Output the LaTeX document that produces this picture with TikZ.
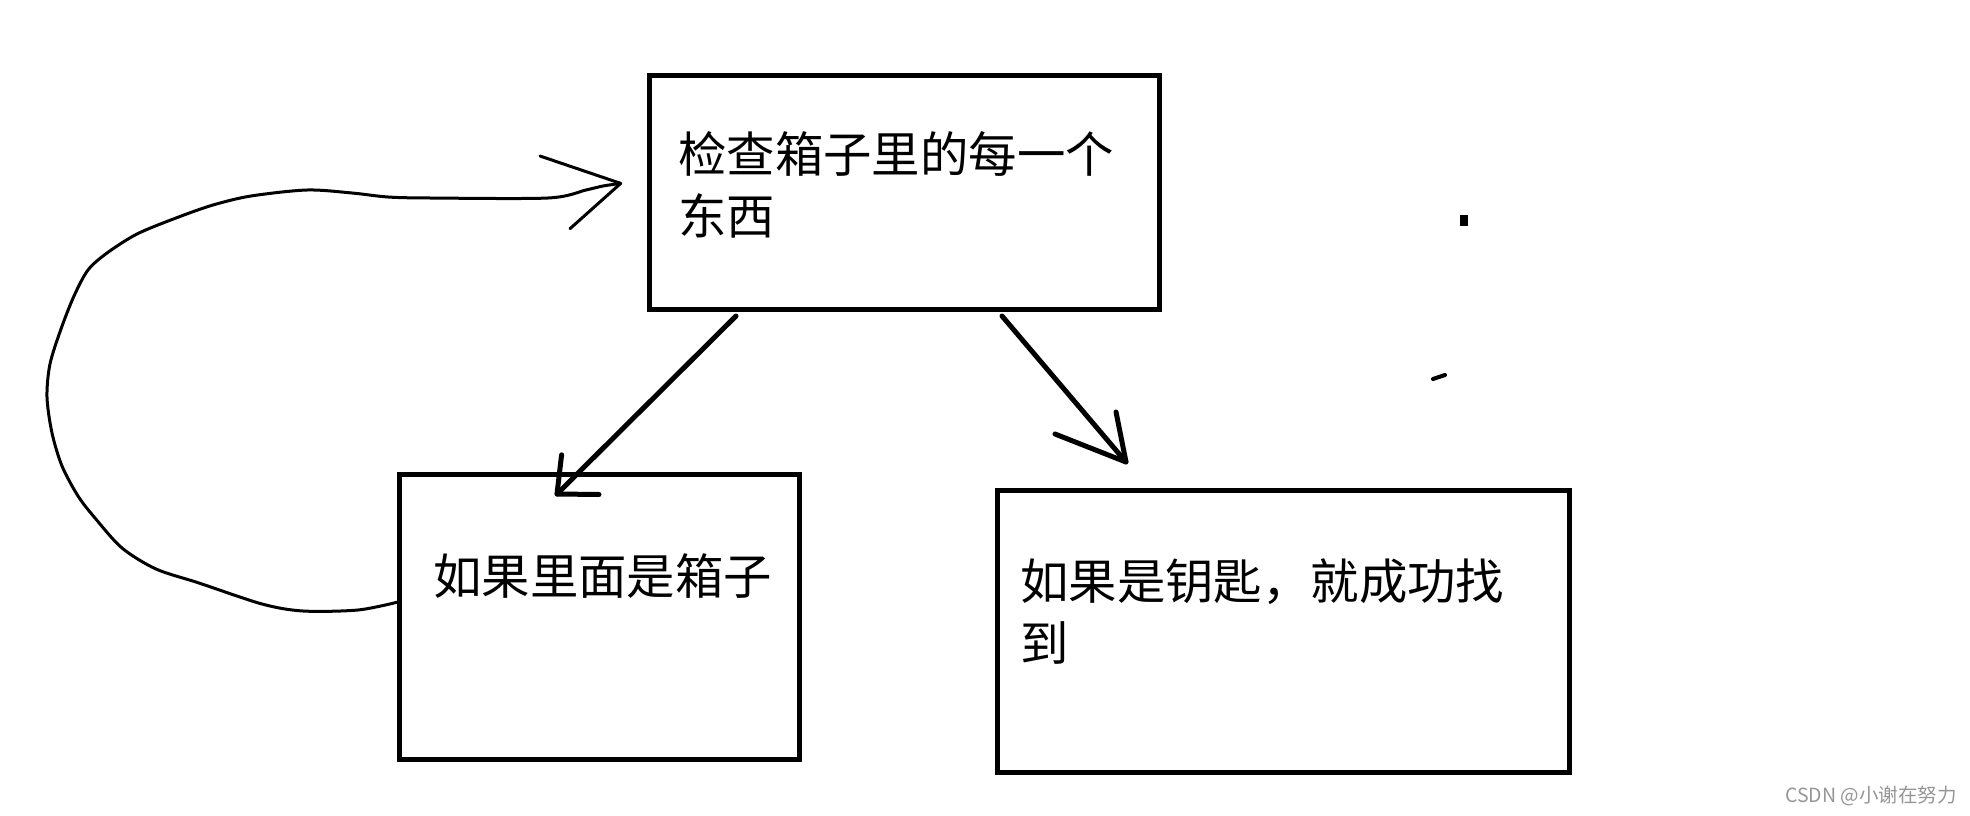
\documentclass[tikz,border=0pt]{standalone}
\usepackage{fontspec}
\newfontfamily\cjk{Noto Sans CJK SC}
\definecolor{wmgray}{RGB}{150,150,150}
\begin{document}
\begin{tikzpicture}[x=1pt,y=-1pt,
  boxstyle/.style={draw=black, line width=5pt, rectangle, inner sep=0pt},
  txt/.style={font=\cjk\fontsize{48.4}{62}\selectfont, inner sep=0pt, anchor=base west},
  conn/.style={line width=5pt, line cap=round, line join=round},
  loopline/.style={line width=3pt, line cap=round, line join=round},
  inkspot/.style={line width=4pt, line cap=round}]
\fill[white] (0,0) rectangle (1970,816);
\useasboundingbox (0,0) rectangle (1970,816);

% boxes
\node[boxstyle, minimum width=510pt, minimum height=234pt] (top) at (904.5,192.5) {};
\node[boxstyle, minimum width=400pt, minimum height=284.5pt] (left) at (599.5,616.75) {};
\node[boxstyle, minimum width=572pt, minimum height=281.5pt] (right) at (1283.5,631.25) {};

% texts
\node[txt] (topA) at (678,172.5) {检查箱子里的每一个};
\node[txt] (topB) at (678,234.5) {东西};
\node[txt] (leftT) at (433,594) {如果里面是箱子};
\node[txt] (rightA) at (1020,599) {如果是钥匙，就成功找};
\node[txt] (rightB) at (1020,661) {到};

% left arrow
\coordinate (aLs) at (736,316);
\coordinate (aLt) at (557,494);
\coordinate (aLh1) at (561.6,454.8);
\coordinate (aLh2) at (599,494.5);
\draw[conn] (aLs) -- (aLt);
\draw[conn] (aLh1) -- (aLt) -- (aLh2);

% right arrow
\coordinate (aRs) at (1002,316);
\coordinate (aRt) at (1126,462);
\coordinate (aRh1) at (1055,434);
\coordinate (aRh2) at (1116,412);
\draw[conn] (aRs) -- (aRt);
\draw[conn] (aRh1) -- (aRt) -- (aRh2);

% loop arrow
\coordinate (loopS) at (398,602);
\coordinate (loopT) at (620.7,183.4);
\coordinate (loopH1) at (540,156);
\coordinate (loopH2) at (570,228.7);
\draw[loopline] plot[smooth, tension=0.5] coordinates {(loopS) (358,610) (303,611) (262,604) (199,583) (156,569) (122,548) (95,518) (78,496) (62,466) (52,433) (47,397) (50,364) (61,329) (74,296) (88,270) (107,253) (137,234) (176,218) (213,205) (251,196) (307,190) (352,193) (388,197) (430,198) (548,198) (586,190) (603,186) (loopT)};
\draw[loopline] (loopH1) -- (loopT) -- (loopH2);

% stray marks
\fill (1460,215) rectangle (1468,226);
\draw[inkspot] (1433,379) -- (1445,375);

% watermark
\node[font=\cjk\fontsize{19.5}{19.5}\selectfont, text=wmgray, inner sep=0pt, anchor=base east] (wm) at (1957,802) {CSDN @小谢在努力};
\end{tikzpicture}
\end{document}
